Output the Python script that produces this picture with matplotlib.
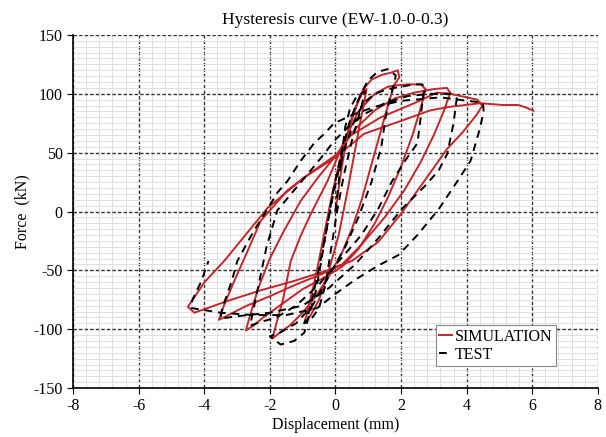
import numpy as np
import matplotlib
matplotlib.use('Agg')
import matplotlib.pyplot as plt
from matplotlib.ticker import MultipleLocator

plt.rcParams['font.family'] = ['Liberation Serif', 'DejaVu Serif']
plt.rcParams['axes.unicode_minus'] = False

# SIMULATION 曲线 (位移 mm, 力 kN)
sim_x = [0, 0.15, 0.3, 0.5, 0.7, 0.85, 0.95,
         0.9, 0.75, 0.55, 0.35, 0.1, -0.2, -0.5, -0.75, -0.95,
         -0.85, -0.6, -0.35, -0.1, 0.15, 0.4, 0.65, 0.85, 1.1, 1.4, 1.7, 1.9, 1.95,
         1.8, 1.6, 1.35, 1.1, 0.8, 0.5, 0.2, -0.2, -0.6, -1.0, -1.4, -1.7, -1.92,
         -1.8, -1.6, -1.36, -1.05, -0.75, -0.24, 0.27, 0.7, 1.2, 1.6, 1.8, 2.2, 2.6, 2.75,
         2.6, 2.35, 2.0, 1.6, 1.2, 0.7, 0.2, -0.4, -1.0, -1.6, -2.2, -2.5, -2.73,
         -2.6, -2.35, -2.0, -1.6, -1.06, -0.5, 0.06, 0.6, 1.2, 1.8, 2.4, 3.0, 3.4, 3.5,
         3.3, 3.0, 2.6, 2.1, 1.5, 0.8, 0.2, -0.4, -1.2, -2.0, -2.7, -3.2, -3.55,
         -3.4, -3.1, -2.7, -2.28, -1.46, -0.75, 0.06, 0.37, 1.38, 2.4, 3.1, 3.5, 4.0, 4.33, 4.48,
         4.3, 3.9, 3.4, 2.84, 2.33, 1.97, 1.3, 0.5, -0.24, -1.26, -2.28, -3.29, -4.3, -4.5,
         -3.99, -3.39, -2.6, -2.07, -0.95, 0.0, 0.87, 2.0, 2.9, 3.5, 4.43, 5.1, 5.57, 5.8, 6.04]
sim_y = [0, 30, 55, 80, 95, 102, 104,
         96, 75, 45, 15, -20, -50, -75, -88, -95,
         -85, -55, -20, 15, 45, 70, 90, 104, 112, 116, 118, 120, 114,
         108, 90, 65, 40, 10, -15, -35, -55, -72, -86, -97, -103, -108,
         -95, -75, -42, -20, -2, 26, 60, 85, 100, 106, 107, 108, 108, 104,
         88, 65, 38, 12, -10, -32, -47, -57, -66, -78, -90, -97, -101,
         -88, -65, -40, -18, 9, 30, 49, 70, 86, 96, 101, 104, 105, 101,
         85, 65, 42, 18, -5, -28, -45, -53, -62, -72, -80, -87, -92,
         -80, -60, -35, -8, 18, 33, 49, 63, 80, 92, 101, 100, 97, 95, 90,
         82, 68, 53, 31, 11, -3, -26, -42, -50, -59, -67, -76, -86, -81,
         -60, -42, -15, 3, 29, 46, 66, 77, 86, 89, 92, 90.5, 90.5, 88.5, 85.6]

# TEST 曲线
test_x = [0, 0.1, 0.2, 0.3, 0.45, 0.65, 0.9,
          0.8, 0.5, 0.25, 0.05, -0.15, -0.3, -0.5, -0.75, -0.95,
          -0.8, -0.55, -0.3, -0.05, 0.2, 0.45, 0.7, 0.98, 1.28, 1.59, 1.84, 1.79,
          1.64, 1.53, 1.4, 1.1, 0.7, 0.3, -0.2, -0.7, -1.2, -1.7, -2.0, -1.67, -1.26, -0.95,
          -0.8, -0.6, -0.45, -0.3, -0.1, 0.1, 0.3, 0.55, 0.85, 1.2, 1.6, 2.0, 2.4, 2.65, 2.75,
          2.68, 2.6, 2.5, 2.17, 1.71, 1.3, 0.79, 0.17, -0.5, -1.2, -1.8, -2.3, -2.6,
          -2.55, -2.4, -2.25, -2.1, -1.77, -1.26, -0.75, -0.34, -0.04, 0.4, 0.9, 1.5, 2.2, 2.9, 3.5, 3.7,
          3.68, 3.6, 3.41, 3.15, 2.74, 2.02, 1.3, 0.6, -0.2, -1.0, -2.0, -3.0, -3.5,
          -3.46, -3.16, -2.99, -2.48, -2.07, -1.77, -1.46, -1.06, -0.65, -0.34, -0.04, 0.6, 1.2, 2.0, 3.21, 3.92, 4.33, 4.5,
          4.52, 4.4, 4.12, 3.7, 3.15, 2.5, 1.92, 1.3, 0.6, 0.0, -0.55, -1.5, -2.5, -3.5, -4.4,
          -4.36, -4.1, -3.87]
test_y = [0, 25, 50, 72, 88, 98, 102,
          90, 60, 30, 0, -35, -62, -82, -92, -95,
          -85, -55, -20, 20, 52, 78, 95, 111, 118.5, 121, 115.6, 108.6,
          94, 80, 55, 25, -5, -30, -55, -80, -95, -103, -106, -113, -110, -103,
          -88, -68, -45, -20, 10, 35, 55, 75, 92, 100, 104, 106, 108, 108, 104,
          100, 80, 58, 45, 25, 2, -20, -40, -62, -80, -90, -94, -97,
          -90, -70, -50, -30, 1, 18, 35, 49, 60, 72, 83, 92, 98, 100, 100, 96,
          92, 75, 49, 35, 22, 2, -23, -45, -65, -80, -86, -89, -91,
          -83, -59, -42, -16, 2, 16, 26, 43, 58, 66, 75, 83, 89, 94, 97, 94.4, 93, 92,
          85, 70, 43, 25, 2, -20, -37, -46, -58, -70, -82, -88, -88, -86, -82,
          -75, -60, -42]

x_ticks = [-8, -6, -4, -2, 0, 2, 4, 6, 8]
y_ticks = [-150, -100, -50, 0, 50, 100, 150]

fig = plt.figure(figsize=(6.06, 4.37), dpi=100)
ax = fig.add_axes([0.1205, 0.112, 0.866, 0.808])

ax.plot(sim_x, sim_y, color='#c0282d', lw=1.4, label='SIMULATION', zorder=3)
ax.plot(test_x, test_y, color='black', lw=1.4, ls=(0, (4, 3)), label='TEST', zorder=4)

ax.set_xlim(-8, 8)
ax.set_ylim(-150, 150)
ax.set_xticks(x_ticks)
ax.set_yticks(y_ticks)
ax.xaxis.set_minor_locator(MultipleLocator(0.4))
ax.yaxis.set_minor_locator(MultipleLocator(5))

ax.grid(which='minor', color='#e0e0e0', lw=0.7, ls='-')
ax.grid(which='major', color='#333333', lw=1.0, ls=(0, (2.5, 1.5)))
ax.set_axisbelow(True)
ax.tick_params(which='minor', length=0)
ax.tick_params(which='major', direction='out', length=4, labelsize=11.5)

for s in ['top', 'right']:
    ax.spines[s].set_visible(False)
for s in ['left', 'bottom']:
    ax.spines[s].set_linewidth(1.2)

ax.set_title('Hysteresis curve (EW-1.0-0-0.3)', fontsize=12.5, pad=8)
ax.set_xlabel('Displacement (mm)', fontsize=11.5, labelpad=2)
ax.set_ylabel('Force  (kN)', fontsize=11.5, labelpad=2)

leg = ax.legend(loc='lower right', bbox_to_anchor=(0.92, 0.062), fontsize=11.5,
                handlelength=0.8, handletextpad=0.2, borderpad=0.2,
                labelspacing=0.15, fancybox=False, framealpha=1, borderaxespad=0)
leg.get_frame().set_edgecolor('#888888')
leg.get_frame().set_linewidth(0.8)

fig.savefig('out.png', dpi=100)
